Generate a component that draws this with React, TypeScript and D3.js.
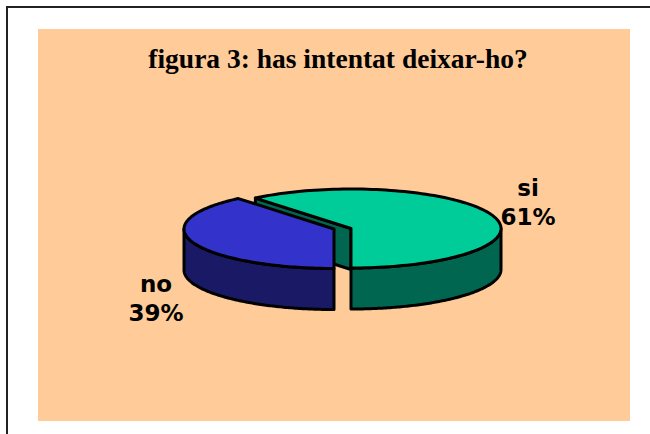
import React from "react";
import * as d3 from "d3";

const categories = ["si", "no"];
const values = [61, 39];
const percentLabels = ["61%", "39%"];
const title = "figura 3: has intentat deixar-ho?";
const topColors = ["#00CC99", "#3333CC"];
const sideColors = ["#006650", "#191966"];

const W = 650, H = 434;
const rx = 150, ry = 39.5, depth = 41;
const centers = [{ x: 351, y: 228.5 }, { x: 334, y: 229 }];
const labelPos = [{ x: 528, y: 196 }, { x: 156, y: 292 }];

const pie = d3.pie<number>().sort(null)
  .startAngle(-0.11 * 2 * Math.PI)
  .endAngle(0.89 * 2 * Math.PI);
const arcs = pie(values);

type P = [number, number];
const line = d3.line<P>();

function rim(i: number, a0: number, a1: number, dy = 0): P[] {
  const c = centers[i];
  return d3.range(0, 121).map((k) => {
    const t = a0 + ((a1 - a0) * k) / 120;
    return [c.x + rx * Math.sin(t), c.y + dy - ry * Math.cos(t)] as P;
  });
}

function topPath(i: number) {
  const c = centers[i];
  const a = arcs[i];
  return line([[c.x, c.y], ...rim(i, a.startAngle, a.endAngle)]) + "Z";
}

// outer wall: only the part of the rim that faces the viewer
function sidePath(i: number) {
  const a = arcs[i];
  const lo = Math.max(a.startAngle, Math.PI / 2);
  const hi = Math.min(a.endAngle, (3 * Math.PI) / 2);
  const upper = rim(i, lo, hi);
  const lower = rim(i, hi, lo, depth);
  return line([...upper, ...lower]) + "Z";
}

// the cut face of the green slice seen through the gap
function cutPath(i: number) {
  const c = centers[i];
  const a = arcs[i];
  const e = rim(i, a.startAngle, a.startAngle)[0];
  return line([[e[0], e[1]], [c.x, c.y], [c.x, c.y + depth], [e[0], e[1] + depth]]) + "Z";
}

export default function App() {
  return (
    <svg width={W} height={H} style={{ position: "absolute", left: 0, top: 0, background: "#fff" }}>
      <path d={`M7 ${H}V7H${W}`} fill="none" stroke="#222" strokeWidth={2} />
      <rect x={38} y={29} width={592} height={392} fill="#FFCC99" />
      <text x={338} y={68} textAnchor="middle" fontFamily="Liberation Serif" fontWeight="bold" fontSize={27.5} fill="#000">
        {title}
      </text>
      <g stroke="#000" strokeWidth={3} strokeLinejoin="round">
        <path d={cutPath(0)} fill={sideColors[0]} />
        <path d={sidePath(0)} fill={sideColors[0]} />
        <path d={topPath(0)} fill={topColors[0]} />
        <path d={sidePath(1)} fill={sideColors[1]} />
        <path d={topPath(1)} fill={topColors[1]} />
      </g>
      {categories.map((c, i) => (
        <text key={c} textAnchor="middle" fontFamily="DejaVu Sans" fontWeight="bold" fontSize={23} fill="#000">
          <tspan x={labelPos[i].x} y={labelPos[i].y}>{c}</tspan>
          <tspan x={labelPos[i].x} y={labelPos[i].y + 29}>{percentLabels[i]}</tspan>
        </text>
      ))}
    </svg>
  );
}
